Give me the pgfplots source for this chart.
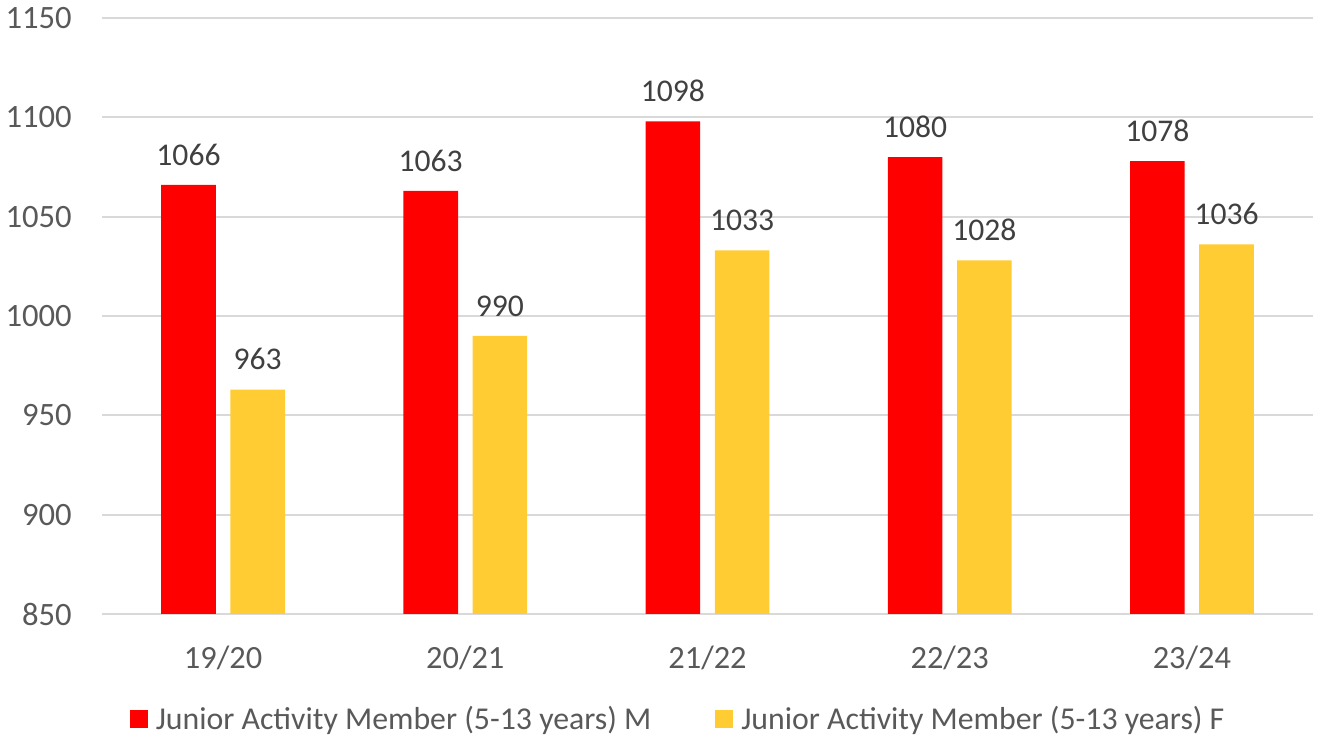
\documentclass[border=0pt]{standalone}
\usepackage{pgfplots}
\pgfplotsset{compat=1.18}
\usepackage{fontspec}
\setmainfont{Carlito}
\definecolor{barred}{HTML}{FF0000}
\definecolor{baryel}{HTML}{FFCD33}
\definecolor{gridc}{HTML}{D9D9D9}
\definecolor{txt}{HTML}{595959}
\definecolor{lbl}{HTML}{404040}
\begin{document}
\begin{tikzpicture}
\path[use as bounding box] (-51pt,-61.5pt) rectangle (610pt,307pt);
\begin{axis}[
  at={(0,0)}, anchor=south west,
  scale only axis, width=605.5pt, height=298pt,
  xmin=-0.5, xmax=4.5, ymin=850, ymax=1150,
  ytick={850,900,...,1150},
  xtick={0,1,2,3,4},
  xticklabels={19/20,20/21,21/22,22/23,23/24},
  major tick length=0pt,
  axis line style={draw=none},
  ymajorgrids, grid style={gridc, line width=1pt},
  yticklabel style={font=\fontsize{16.3}{19}\selectfont, text=txt},
  xticklabel style={font=\fontsize{16.2}{19}\selectfont, text=txt},
  /pgf/number format/assume math mode=true,
  /pgf/number format/1000 sep={},
  yticklabel style={inner sep=0pt, anchor=east, xshift=-15pt},
  xticklabel style={inner sep=0pt, anchor=north, yshift=-16pt},
  clip=false,
  nodes near coords,
  nodes near coords style={font=\fontsize{15.8}{19}\selectfont, text=lbl, inner sep=0pt, anchor=south, yshift=9.5pt},
  legend style={at={(0.4765,-0.176)}, anchor=center, draw=none, fill=none,
    font=\fontsize{15.9}{19}\selectfont, text=txt, legend columns=2,
    /tikz/every even column/.append style={column sep=30pt},
    nodes={inner sep=2pt}},
  legend image code/.code={\fill[#1] (0pt,-4.5pt) rectangle (9pt,4.5pt); \path (11pt,0pt);},
]
\addplot[ybar, bar width=27.3pt, bar shift=-17.3pt, fill=barred, draw=none,
  every node near coord/.append style={xshift=-17.3pt}]
  coordinates {(0,1066) (1,1063) (2,1098) (3,1080) (4,1078)};
\addlegendentry{Junior Activity Member (5-13 years) M}
\addplot[ybar, bar width=27.3pt, bar shift=17.3pt, fill=baryel, draw=none,
  every node near coord/.append style={xshift=17.3pt}]
  coordinates {(0,963) (1,990) (2,1033) (3,1028) (4,1036)};
\addlegendentry{Junior Activity Member (5-13 years) F}
\end{axis}
\end{tikzpicture}
\end{document}
